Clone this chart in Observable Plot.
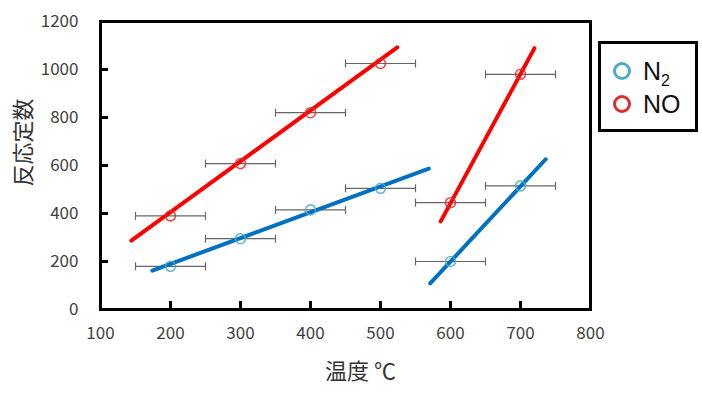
<!DOCTYPE html>
<html>
<head>
<meta charset="utf-8">
<script src="https://cdn.jsdelivr.net/npm/d3@7"></script>
<script src="https://cdn.jsdelivr.net/npm/@observablehq/plot@0.6"></script>
<style>
  html, body { margin: 0; padding: 0; background: #fff; }
  #wrap { position: relative; width: 702px; height: 398px; font-family: "Noto Sans CJK JP", "Noto Sans", sans-serif; }
  #legend { position: absolute; left: 598px; top: 41px; width: 94px; height: 85px; border: 3px solid #000; box-sizing: content-box; }
  .item { position: absolute; left: 12px; height: 30px; display: flex; align-items: center; font-family: "Liberation Sans", Arial, sans-serif; font-size: 25px; color: #111; }
  .sw { width: 12px; height: 12px; border-radius: 50%; border: 3px solid; margin-right: 12px; }
  sub { font-size: 16px; vertical-align: -6px; line-height: 0; }
</style>
</head>
<body>
<div id="wrap"></div>
<script>
// ---- data ----
const temps = [200, 300, 400, 500, 600, 700];
const n2Values = [180, 295, 415, 505, 200, 515];
const noValues = [390, 608, 820, 1025, 445, 980];
const tempError = 50;
const xTicks = [100, 200, 300, 400, 500, 600, 700, 800];
const yTicks = [0, 200, 400, 600, 800, 1000, 1200];
// fitted lines (endpoints)
const n2FitLowX = [174, 569], n2FitLowY = [162, 587];
const n2FitHighX = [571, 736], n2FitHighY = [109, 626];
const noFitLowX = [144, 524], noFitLowY = [287, 1092];
const noFitHighX = [586, 720], noFitHighY = [367, 1089];
const seriesNames = ["N2", "NO"];
const xLabel = "温度 ℃";
const yLabel = "反応定数";

const markerColor = {N2: "#4BACC6", NO: "#D9302E"};
const lineColor = {N2: "#0070C0", NO: "#FF0000"};

const points = [];
temps.forEach((t, i) => {
  points.push({series: "N2", t, v: n2Values[i]});
  points.push({series: "NO", t, v: noValues[i]});
});
const fits = [];
const addFit = (series, seg, xs, ys) => xs.forEach((x, i) => fits.push({series, seg, x, y: ys[i]}));
addFit("N2", "low", n2FitLowX, n2FitLowY);
addFit("N2", "high", n2FitHighX, n2FitHighY);
addFit("NO", "low", noFitLowX, noFitLowY);
addFit("NO", "high", noFitHighX, noFitHighY);
const caps = points.flatMap(d => [{t: d.t - tempError, v: d.v}, {t: d.t + tempError, v: d.v}]);

const capSymbol = {draw(c, s) { const h = Math.sqrt(s / Math.PI); c.moveTo(0, -h); c.lineTo(0, h); }};

const W = 702, H = 398, ML = 100, MR = 112, MT = 21, MB = 89;
const TICK = 8;
const font = "Noto Sans CJK JP";
const fmt = d => String(d);
const chart = Plot.plot({
  width: W,
  height: H,
  marginLeft: ML,
  marginRight: MR,
  marginTop: MT,
  marginBottom: MB,
  style: {fontFamily: font, background: "#fff"},
  x: {domain: [100, 800]},
  y: {domain: [0, 1200]},
  marks: [
    Plot.axisY({ticks: yTicks, tickFormat: fmt, tickSize: 0, tickPadding: 22, fontSize: 17, fill: "#404040", label: null}),
    Plot.axisX({ticks: xTicks, tickFormat: fmt, tickSize: 0, tickPadding: 17, fontSize: 17, fill: "#404040", label: null}),
    Plot.link(points, {x1: d => d.t - tempError, x2: d => d.t + tempError, y1: "v", y2: "v", stroke: "#666", strokeWidth: 1.2}),
    Plot.dot(caps, {x: "t", y: "v", symbol: capSymbol, r: 4, stroke: "#666", strokeWidth: 1.2, fill: "none"}),
    Plot.line(fits, {x: "x", y: "y", z: d => d.series + d.seg, stroke: d => lineColor[d.series], strokeWidth: 4}),
    Plot.dot(points, {x: "t", y: "v", r: 5, stroke: d => markerColor[d.series], strokeWidth: 1.6, fill: "none", strokeOpacity: 0.85}),
    Plot.frame({stroke: "#000", strokeWidth: 3}),
    Plot.ruleY(yTicks, {y: d => d, insetRight: W - ML - MR - TICK, stroke: "#000", strokeWidth: 3}),
    Plot.ruleX(xTicks, {x: d => d, insetTop: H - MT - MB - TICK, stroke: "#000", strokeWidth: 3}),
    Plot.text([yLabel], {frameAnchor: "left", textAnchor: "middle", lineAnchor: "middle", dx: -77, dy: -23, rotate: -90, fontSize: 22, fill: "#333", fontFamily: font}),
    Plot.text([xLabel], {frameAnchor: "bottom", textAnchor: "middle", lineAnchor: "middle", dx: 15, dy: 62, fontSize: 22, fill: "#333", fontFamily: font})
  ]
});
const wrap = document.getElementById("wrap");
wrap.appendChild(chart);

const legend = document.createElement("div");
legend.id = "legend";
seriesNames.forEach((name, i) => {
  const item = document.createElement("div");
  item.className = "item";
  item.style.top = (12 + i * 33) + "px";
  const sw = document.createElement("span");
  sw.className = "sw";
  sw.style.borderColor = markerColor[name];
  item.appendChild(sw);
  const label = document.createElement("span");
  if (name === "N2") label.innerHTML = "N<sub>2</sub>";
  else label.textContent = name;
  item.appendChild(label);
  legend.appendChild(item);
});
wrap.appendChild(legend);
</script>
</body>
</html>
